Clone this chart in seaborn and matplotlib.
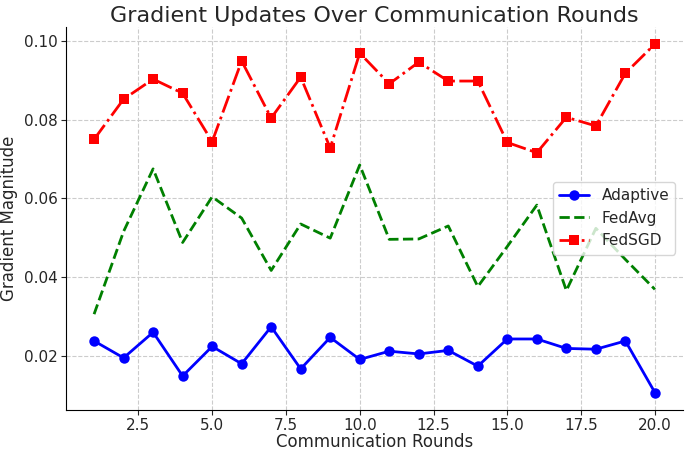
import matplotlib
matplotlib.use("Agg")
import matplotlib.pyplot as plt
import seaborn as sns
import pandas as pd

# data
rounds = list(range(1, 21))
adaptive = [0.0238, 0.0195, 0.0260, 0.0149, 0.0224, 0.0180, 0.0274, 0.0167, 0.0247, 0.0191,
            0.0212, 0.0205, 0.0214, 0.0174, 0.0243, 0.0243, 0.0219, 0.0217, 0.0238, 0.0107]
fedavg = [0.0306, 0.0516, 0.0675, 0.0488, 0.0604, 0.0550, 0.0417, 0.0535, 0.0499, 0.0685,
          0.0496, 0.0497, 0.0530, 0.0376, 0.0478, 0.0583, 0.0366, 0.0524, 0.0445, 0.0369]
fedsgd = [0.0750, 0.0852, 0.0903, 0.0867, 0.0744, 0.0949, 0.0804, 0.0908, 0.0728, 0.0969,
          0.0891, 0.0946, 0.0898, 0.0898, 0.0742, 0.0716, 0.0806, 0.0784, 0.0918, 0.0992]

sns.set_style("ticks")
plt.rcParams['font.family'] = ['DejaVu Sans']

fig = plt.figure(figsize=(6.85, 4.51), dpi=100)
ax = fig.add_axes([0.0964, 0.091, 0.9006, 0.85])

df = pd.DataFrame({"round": rounds, "Adaptive": adaptive, "FedAvg": fedavg, "FedSGD": fedsgd})

sns.lineplot(data=df, x="round", y="Adaptive", ax=ax, color="blue", linestyle="-",
             marker="o", markersize=7.5, markeredgewidth=0, linewidth=2, label="Adaptive")
sns.lineplot(data=df, x="round", y="FedAvg", ax=ax, color="green", linestyle="--",
             linewidth=2, label="FedAvg")
sns.lineplot(data=df, x="round", y="FedSGD", ax=ax, color="red", linestyle="-.",
             marker="s", markersize=7.5, markeredgewidth=0, linewidth=2, label="FedSGD")

ax.set_title("Gradient Updates Over Communication Rounds", fontsize=16, pad=3)
ax.set_xlabel("Communication Rounds", fontsize=12, labelpad=0)
ax.set_ylabel("Gradient Magnitude", fontsize=12)
ax.tick_params(labelsize=11, pad=2.5)
ax.set_xticks([2.5, 5.0, 7.5, 10.0, 12.5, 15.0, 17.5, 20.0])
ax.set_yticks([0.02, 0.04, 0.06, 0.08, 0.10])
ax.grid(True, linestyle="--", color="#cccccc", linewidth=0.8)
ax.spines["top"].set_visible(False)
ax.spines["right"].set_visible(False)
ax.spines["left"].set_color("black")
ax.spines["bottom"].set_color("black")
ax.legend(loc="center right", fontsize=11)

fig.savefig("out.png", dpi=100)
